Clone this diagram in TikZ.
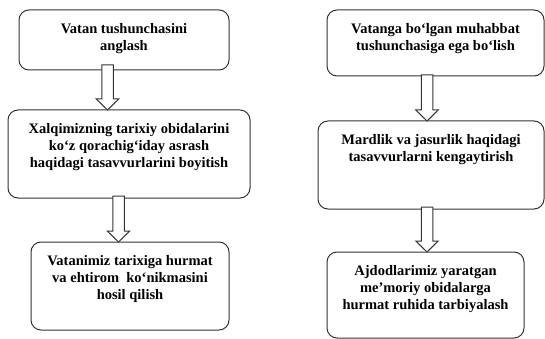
\documentclass[tikz,border=0pt]{standalone}
\usepackage{fontspec}
\setmainfont{Liberation Serif}
\usetikzlibrary{calc}
\definecolor{edge}{HTML}{333333}
\newcommand\mybx[3]{\parbox[c][#2pt][t]{#1pt}{\vspace*{13pt}\centering\bfseries\fontsize{14.5}{17}\selectfont #3\par}}
\newcommand\blkarr[4]{%
  \draw[blockarr] ($(#1.south -| #3)+(-5.75,-#4)$) -- ($(#2.north -| #3)+(-5.75,-11)$) -- ++(-5.5,0)
    -- (#2.north -| #3) -- ($(#2.north -| #3)+(11.25,-11)$) -- ++(-5.5,0)
    -- ($(#1.south -| #3)+(5.75,-#4)$) -- cycle;}
\tikzset{
  box/.style={draw=edge, line width=1pt, rounded corners=10pt, inner sep=0pt, outer sep=0pt, anchor=north west, text=black},
  blockarr/.style={draw=edge, line width=1pt, fill=white, line join=miter}
}
\begin{document}
\begin{tikzpicture}[x=1pt,y=-1pt]
\useasboundingbox (0,0) rectangle (545,339);
% left column
\node[box] (b1) at (19,10) {\mybx{210}{60}{Vatan tushunchasini\\anglash}};
\node[box] (b2) at (8,110) {\mybx{242}{88}{Xalqimizning tarixiy obidalarini\\ko‘z qorachig‘iday asrash\\haqidagi tasavvurlarini boyitish}};
\node[box] (b3) at (31,242) {\mybx{198}{88}{Vatanimiz tarixiga hurmat\\va ehtirom\ \ ko‘nikmasini\\hosil qilish}};
% right column
\node[box] (b4) at (327,10) {\mybx{217}{66}{Vatanga bo‘lgan muhabbat\\tushunchasiga ega bo‘lish}};
\node[box] (b5) at (318,121) {\mybx{226}{88}{Mardlik va jasurlik haqidagi\\tasavvurlarni kengaytirish}};
\node[box] (b6) at (327,252) {\mybx{197}{86}{Ajdodlarimiz yaratgan\\me’moriy obidalarga\\hurmat ruhida tarbiyalash}};
% arrow axes
\coordinate (x1) at (107.5,0);
\coordinate (x2) at (118.5,0);
\coordinate (x3) at (427,0);
\coordinate (x4) at (427,0);
\blkarr{b1}{b2}{x1}{5}
\blkarr{b2}{b3}{x2}{2}
\blkarr{b4}{b5}{x3}{1}
\blkarr{b5}{b6}{x4}{2}
\end{tikzpicture}
\end{document}
